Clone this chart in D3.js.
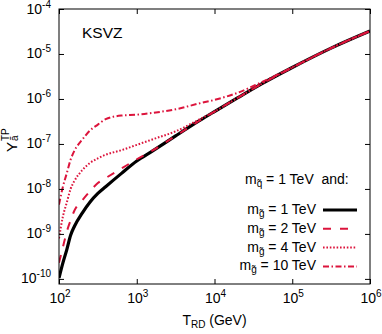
<!DOCTYPE html>
<html>
<head>
<meta charset="utf-8">
<script src="https://cdn.jsdelivr.net/npm/d3@7"></script>
<style>
  body { margin: 0; background: #fff; }
  svg { display: block; font-family: "Liberation Sans", Arial, sans-serif; }
</style>
</head>
<body>
<div id="chart"></div>
<script>
// reheating temperature grid (GeV)
var T_RD = [100, 112, 126, 141, 158, 200, 251, 316, 398, 631, 1000, 1585, 3162, 6310,
            1e4, 2e4, 3.98e4, 1e5, 3.16e5, 1e6];

// Y_a^TP for each gluino mass (m_squark = 1 TeV)
var Y_1TeV  = [1.05e-10, 2.24e-10, 4.47e-10, 9.33e-10, 1.48e-9, 2.95e-9, 5.13e-9, 7.94e-9, 1.12e-8, 2.19e-8,
               4.17e-8, 6.92e-8, 1.51e-7, 3.24e-7, 5.25e-7, 1.07e-6, 2.14e-6, 5.01e-6, 1.35e-5, 3.24e-5];
var Y_2TeV  = [2.29e-10, 5.01e-10, 1.12e-9, 2.00e-9, 3.31e-9, 5.62e-9, 8.91e-9, 1.35e-8, 1.74e-8, 2.82e-8,
               4.57e-8, 7.08e-8, 1.51e-7, 3.24e-7, 5.25e-7, 1.07e-6, 2.14e-6, 5.01e-6, 1.35e-5, 3.24e-5];
var Y_4TeV  = [7.94e-10, 2.40e-9, 5.01e-9, 1.00e-8, 1.51e-8, 2.63e-8, 3.80e-8, 4.79e-8, 5.75e-8, 7.24e-8,
               9.55e-8, 1.26e-7, 1.91e-7, 3.47e-7, 5.25e-7, 1.07e-6, 2.14e-6, 5.01e-6, 1.35e-5, 3.24e-5];
var Y_10TeV = [4.47e-9, 1.10e-8, 2.24e-8, 4.47e-8, 7.08e-8, 1.26e-7, 2.00e-7, 2.69e-7, 3.55e-7, 4.27e-7,
               4.47e-7, 4.90e-7, 5.89e-7, 7.94e-7, 9.55e-7, 1.38e-6, 2.34e-6, 5.01e-6, 1.35e-5, 3.24e-5];

var legend_labels = ["1 TeV", "2 TeV", "4 TeV", "10 TeV"];
var x_ticks = [1e2, 1e3, 1e4, 1e5, 1e6];
var y_ticks = [1e-10, 1e-9, 1e-8, 1e-7, 1e-6, 1e-5, 1e-4];

const red = "#dc143c";

var W = 382, H = 334;
var plot = {left: 59, right: 370, top: 9, bottom: 284};

var svg = d3.select("#chart").append("svg")
    .attr("width", W).attr("height", H);

var x = d3.scaleLog().domain([1e2, 1e6]).range([plot.left, plot.right]);
var y = d3.scaleLog().domain([7.7e-11, 1e-4]).range([plot.bottom, plot.top]);

var series = [
  {values: Y_1TeV,  color: "#000", width: 3.2, dash: null},
  {values: Y_2TeV,  color: red, width: 2, dash: "8,9"},
  {values: Y_4TeV,  color: red, width: 2, dash: "1.6,1.8"},
  {values: Y_10TeV, color: red, width: 2, dash: "6,2.5,1.5,2.5"}
];

var line = d3.line()
    .x(function(d) { return x(d[0]); })
    .y(function(d) { return y(d[1]); })
    .curve(d3.curveMonotoneX);

svg.append("clipPath").attr("id", "clip")
  .append("rect")
    .attr("x", plot.left).attr("y", plot.top)
    .attr("width", plot.right - plot.left).attr("height", plot.bottom - plot.top);

series.forEach(function(s) {
  svg.append("path")
    .datum(T_RD.map(function(t, i) { return [t, s.values[i]]; }))
    .attr("clip-path", "url(#clip)")
    .attr("fill", "none")
    .attr("stroke", s.color)
    .attr("stroke-width", s.width)
    .attr("stroke-dasharray", s.dash)
    .attr("d", line);
});

// ticks on all four sides, pointing inwards
svg.append("g").attr("transform", "translate(0," + plot.bottom + ")")
  .call(d3.axisBottom(x).tickValues(x_ticks).tickSize(-5).tickSizeOuter(0).tickFormat(""));
svg.append("g").attr("transform", "translate(0," + plot.top + ")")
  .call(d3.axisTop(x).tickValues(x_ticks).tickSize(-5).tickSizeOuter(0).tickFormat(""));
svg.append("g").attr("transform", "translate(" + plot.left + ",0)")
  .call(d3.axisLeft(y).tickValues(y_ticks).tickSize(-5).tickSizeOuter(0).tickFormat(""));
svg.append("g").attr("transform", "translate(" + plot.right + ",0)")
  .call(d3.axisRight(y).tickValues(y_ticks).tickSize(-5).tickSizeOuter(0).tickFormat(""));
svg.selectAll(".domain").remove();

svg.append("rect")
    .attr("x", plot.left).attr("y", plot.top)
    .attr("width", plot.right - plot.left).attr("height", plot.bottom - plot.top)
    .attr("fill", "none").attr("stroke", "#000").attr("stroke-width", 1);

// tick labels as 10^n
x_ticks.forEach(function(v) {
  var t = svg.append("text")
      .attr("x", x(v) + 1).attr("y", 303)
      .attr("text-anchor", "middle")
      .attr("font-size", 14);
  t.append("tspan").text("10");
  t.append("tspan").attr("dy", -6).attr("font-size", 10).text(Math.round(Math.log10(v)));
});

y_ticks.forEach(function(v) {
  var t = svg.append("text")
      .attr("x", 51).attr("y", y(v) + 4.5)
      .attr("text-anchor", "end")
      .attr("font-size", 14);
  t.append("tspan").text("10");
  t.append("tspan").attr("dy", -6).attr("font-size", 10).text(Math.round(Math.log10(v)));
});

// axis titles
var xt = svg.append("text")
    .attr("x", (plot.left + plot.right) / 2).attr("y", 325)
    .attr("text-anchor", "middle").attr("font-size", 14);
xt.append("tspan").text("T");
xt.append("tspan").attr("dy", 3).attr("font-size", 10).text("RD");
xt.append("tspan").attr("dy", -3).text(" (GeV)");

var yt = svg.append("g").attr("transform", "translate(17,152) rotate(-90)");
yt.append("text").attr("x", 0).attr("y", 0).attr("font-size", 15).text("Y");
yt.append("text").attr("x", 11).attr("y", 1).attr("font-size", 10).text("ã");
yt.append("text").attr("x", 11).attr("y", -8).attr("font-size", 10).text("TP");

svg.append("text").attr("x", 82).attr("y", 38).attr("font-size", 15.5).text("KSVZ");

// legend
var hdr = svg.append("text").attr("x", 245).attr("y", 184).attr("font-size", 14);
hdr.append("tspan").text("m");
hdr.append("tspan").attr("dy", 3).attr("font-size", 10).text("q\u0303");
hdr.append("tspan").attr("dy", -3).text(" = 1 TeV\u00a0 and:");

legend_labels.forEach(function(lab, i) {
  var yy = 214 + i * 18.8;
  var t = svg.append("text").attr("x", 316).attr("y", yy)
      .attr("text-anchor", "end").attr("font-size", 14);
  t.append("tspan").text("m");
  t.append("tspan").attr("dy", 3).attr("font-size", 10).text("g\u0303");
  t.append("tspan").attr("dy", -3).text(" = " + lab);
  svg.append("line")
    .attr("x1", 323).attr("x2", 357)
    .attr("y1", yy - 4).attr("y2", yy - 4)
    .attr("stroke", series[i].color)
    .attr("stroke-width", series[i].width)
    .attr("stroke-dasharray", series[i].dash);
});
</script>
</body>
</html>
